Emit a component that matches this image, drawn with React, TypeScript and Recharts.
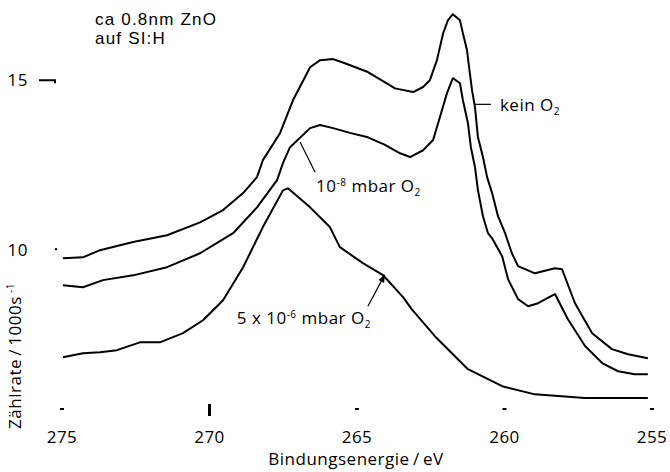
import React from 'react';
import { LineChart, Line, XAxis, YAxis, ReferenceLine } from 'recharts';

const energyTicks = [275, 270, 265, 260, 255];
const countTicks = [10, 15];

const keinO2Energy = [274.97, 274.29, 273.71, 272.59, 271.44, 270.32, 269.54, 268.86, 268.39, 268.19, 267.61, 267.17, 266.59, 266.25, 265.81, 265.41, 264.63, 263.71, 263.1, 262.76, 262.53, 262.29, 262.08, 261.92, 261.75, 261.51, 261.41, 261.27, 261.2, 261.1, 261.0, 260.9, 260.73, 260.59, 260.42, 260.22, 259.98, 259.75, 259.54, 258.97, 258.29, 258.05, 257.61, 257.03, 256.36, 255.81, 255.14];
const keinO2Counts = [9.76, 9.79, 10.0, 10.24, 10.44, 10.82, 11.18, 11.68, 12.15, 12.65, 13.44, 14.41, 15.38, 15.59, 15.62, 15.5, 15.24, 14.76, 14.65, 14.8, 15.0, 15.59, 16.38, 16.76, 16.94, 16.76, 16.38, 15.88, 15.38, 14.7, 14.2, 13.32, 12.74, 12.15, 11.68, 11.0, 10.5, 9.91, 9.53, 9.32, 9.47, 9.44, 8.44, 7.56, 7.09, 6.94, 6.82];

const lowO2Energy = [274.97, 274.29, 273.61, 272.59, 271.44, 270.32, 269.2, 268.39, 267.71, 267.51, 267.27, 266.59, 266.25, 265.81, 265.24, 264.63, 264.05, 263.54, 263.2, 262.76, 262.42, 262.19, 261.95, 261.75, 261.51, 261.41, 261.24, 261.14, 261.0, 260.9, 260.73, 260.56, 260.42, 260.08, 259.88, 259.54, 259.2, 258.86, 258.53, 258.29, 257.85, 257.27, 256.69, 256.15, 255.58, 255.14];
const lowO2Counts = [8.97, 8.91, 9.12, 9.26, 9.5, 9.91, 10.5, 11.26, 12.06, 12.56, 13.03, 13.59, 13.68, 13.59, 13.45, 13.32, 13.1, 12.85, 12.74, 12.94, 13.24, 13.91, 14.62, 15.06, 14.91, 14.41, 13.74, 13.03, 12.44, 11.76, 11.0, 10.5, 10.35, 9.82, 9.15, 8.56, 8.35, 8.44, 8.6, 8.71, 7.97, 7.18, 6.68, 6.44, 6.35, 6.35];

const highO2Energy = [274.97, 274.29, 273.71, 273.14, 272.36, 271.68, 270.9, 270.22, 269.54, 268.86, 268.19, 267.51, 267.34, 266.59, 265.92, 265.58, 264.8, 264.12, 263.44, 263.14, 262.36, 261.24, 260.08, 258.97, 257.27, 255.14];
const highO2Counts = [6.85, 6.97, 7.0, 7.06, 7.29, 7.29, 7.56, 7.94, 8.53, 9.5, 10.68, 11.76, 11.82, 11.26, 10.68, 10.09, 9.62, 9.27, 8.62, 8.26, 7.47, 6.5, 6.0, 5.76, 5.65, 5.65];

const toSeries = (es: number[], cs: number[]) => es.map((e, i) => ({ e, c: cs[i] }));
const keinO2 = toSeries(keinO2Energy, keinO2Counts);
const lowO2 = toSeries(lowO2Energy, lowO2Counts);
const highO2 = toSeries(highO2Energy, highO2Counts);

const FONT = '"Open Sans", "Noto Sans", sans-serif';
const NOTE_FONT = '"Liberation Sans", Arial, sans-serif';
const FS = 17;
const LS = 0.5;

const XTick = (props: any) => {
  const { x, y, payload } = props;
  const big = payload.value === 270;
  return (
    <g>
      {big ? (
        <rect x={x - 1.5} y={y - 6} width={3} height={12} fill="#000" />
      ) : (
        <rect x={x - 2} y={y - 2} width={4} height={2} fill="#000" />
      )}
      <text x={x} y={y + 33} textAnchor="middle" fontSize={FS} letterSpacing={LS} fill="#000" fontFamily={FONT}>
        {payload.value}
      </text>
    </g>
  );
};

const YTick = (props: any) => {
  const { x, y, payload } = props;
  const is15 = payload.value === 15;
  return (
    <g>
      <text x={x - 34} y={y + 6} textAnchor="end" fontSize={FS} letterSpacing={LS} fill="#000" fontFamily={FONT}>
        {payload.value}
      </text>
      {is15 ? (
        <path d={`M${x - 23},${y} L${x - 7},${y} L${x - 7},${y + 3}`} stroke="#000" strokeWidth={2} fill="none" />
      ) : (
        <rect x={x - 7} y={y - 2} width={2} height={2} fill="#000" />
      )}
    </g>
  );
};

const keinShape = (p: any) => (
  <g>
    <line x1={p.x1} y1={p.y1} x2={p.x2} y2={p.y2} stroke="#000" strokeWidth={1.2} />
    <text x={p.x2 + 9} y={p.y2 + 7} fontSize={FS} letterSpacing={LS} fill="#000" fontFamily={FONT}>
      kein O<tspan fontSize={10} dy={4}>2</tspan>
    </text>
  </g>
);

const lowShape = (p: any) => (
  <g>
    <line x1={p.x1} y1={p.y1} x2={p.x2} y2={p.y2} stroke="#000" strokeWidth={1.2} />
    <text x={p.x2 + 1} y={p.y2 + 20} fontSize={FS} letterSpacing={LS} fill="#000" fontFamily={FONT}>
      10<tspan fontSize={10} dy={-6}>-8</tspan>
      <tspan dy={6}> mbar O</tspan>
      <tspan fontSize={10} dy={4}>2</tspan>
    </text>
  </g>
);

const highShape = (p: any) => {
  const dx = p.x2 - p.x1;
  const dy = p.y2 - p.y1;
  const len = Math.sqrt(dx * dx + dy * dy) || 1;
  const ux = dx / len;
  const uy = dy / len;
  const hl = 8;
  const hw = 3.2;
  const bx = p.x2 - ux * hl;
  const by = p.y2 - uy * hl;
  const pts = `${p.x2},${p.y2} ${bx - uy * hw},${by + ux * hw} ${bx + uy * hw},${by - ux * hw}`;
  return (
    <g>
      <line x1={p.x1} y1={p.y1} x2={bx} y2={by} stroke="#000" strokeWidth={1.2} />
      <polygon points={pts} fill="#000" />
      <text x={p.x1 + 3} y={p.y1 + 18} textAnchor="end" fontSize={FS} letterSpacing={LS} fill="#000" fontFamily={FONT}>
        5 x 10<tspan fontSize={10} dy={-6}>-6</tspan>
        <tspan dy={6}> mbar O</tspan>
        <tspan fontSize={10} dy={4}>2</tspan>
      </text>
    </g>
  );
};

export default function App() {
  return (
    <div style={{ position: 'absolute', left: 0, top: 0, width: 670, height: 472, background: '#fff', fontFamily: FONT }}>
      <LineChart width={670} height={472} margin={{ top: 2, right: 18, bottom: 0, left: 0 }}>
        <XAxis
          dataKey="e"
          type="number"
          domain={[255, 275]}
          reversed
          ticks={energyTicks}
          axisLine={false}
          tickLine={false}
          tickSize={0}
          tickMargin={0}
          height={62}
          tick={<XTick />}
          allowDataOverflow
        />
        <YAxis
          type="number"
          domain={[5.3, 17.3]}
          ticks={countTicks}
          axisLine={false}
          tickLine={false}
          tickSize={0}
          tickMargin={0}
          width={62}
          tick={<YTick />}
          allowDataOverflow
        />
        <Line data={keinO2} dataKey="c" stroke="#000" strokeWidth={2} dot={false} isAnimationActive={false} strokeLinejoin="round" />
        <Line data={lowO2} dataKey="c" stroke="#000" strokeWidth={2} dot={false} isAnimationActive={false} strokeLinejoin="round" />
        <Line data={highO2} dataKey="c" stroke="#000" strokeWidth={2} dot={false} isAnimationActive={false} strokeLinejoin="round" />
        <ReferenceLine segment={[{ x: 261.0, y: 14.29 }, { x: 260.46, y: 14.29 }]} shape={keinShape} ifOverflow="visible" />
        <ReferenceLine segment={[{ x: 266.93, y: 13.18 }, { x: 266.42, y: 12.29 }]} shape={lowShape} ifOverflow="visible" />
        <ReferenceLine segment={[{ x: 264.63, y: 8.35 }, { x: 264.05, y: 9.29 }]} shape={highShape} ifOverflow="visible" />
      </LineChart>
      <svg width={670} height={472} style={{ position: 'absolute', left: 0, top: 0, pointerEvents: 'none' }} fontFamily={FONT}>
        <text x={95} y={25} fontSize={FS} letterSpacing={1.2} fill="#000" fontFamily={NOTE_FONT}>ca 0.8nm ZnO</text>
        <text x={95} y={44} fontSize={FS} letterSpacing={1.2} fill="#000" fontFamily={NOTE_FONT}>auf SI:H</text>
        <text x={356} y={465} fontSize={FS} letterSpacing={LS} fill="#000" textAnchor="middle">{'Bindungsenergie\u2009/\u2009eV'}</text>
        <text transform="translate(21,356) rotate(-90)" fontSize={FS} letterSpacing={LS} fill="#000" textAnchor="middle">
          {'Zählrate\u2009/\u20091000s'}<tspan fontSize={10} dy={-7}> -1</tspan>
        </text>
      </svg>
    </div>
  );
}
